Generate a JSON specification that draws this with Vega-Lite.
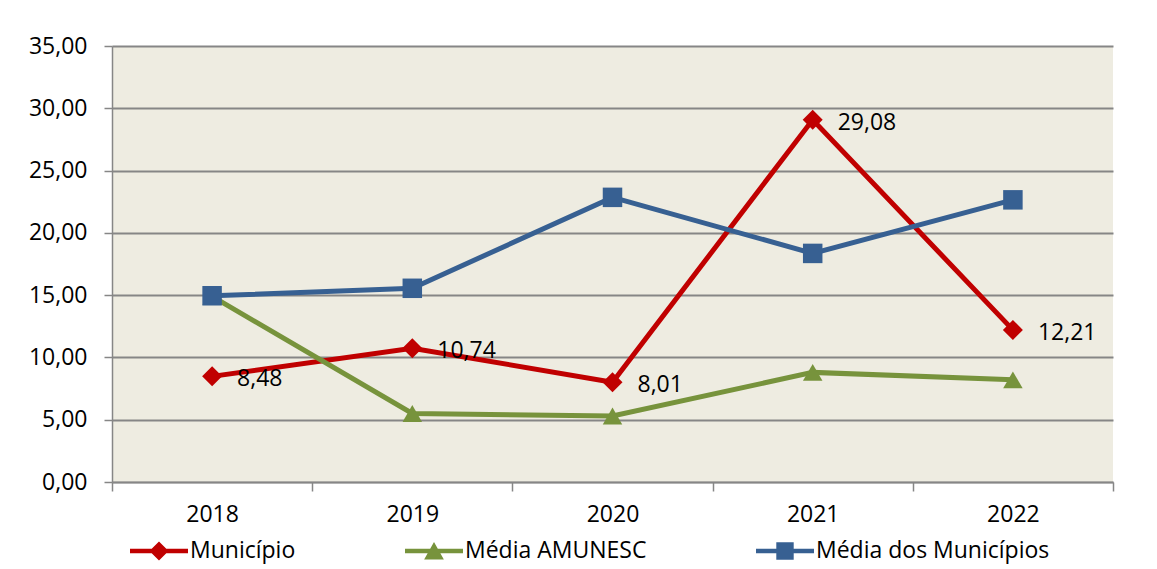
{
  "$schema": "https://vega.github.io/schema/vega-lite/v6.json",
  "width": 1001,
  "height": 436,
  "autosize": {"type": "none"},
  "padding": {"left": 112, "top": 46, "right": 44, "bottom": 87},
  "background": "white",
  "config": {
    "locale": {"number": {"decimal": ",", "thousands": ".", "grouping": [3], "currency": ["", ""]}},
    "view": {"fill": "#EEECE1", "stroke": null},
    "font": "Open Sans",
    "axis": {"labelFont": "Open Sans", "labelFontSize": 23, "labelColor": "#000000", "domainColor": "#868686", "tickColor": "#868686", "domainWidth": 1.5, "tickWidth": 1.5}
  },
  "data": {
    "values": [
      {"ano": "2018", "serie": "Município", "valor": 8.48},
      {"ano": "2019", "serie": "Município", "valor": 10.74},
      {"ano": "2020", "serie": "Município", "valor": 8.01},
      {"ano": "2021", "serie": "Município", "valor": 29.08},
      {"ano": "2022", "serie": "Município", "valor": 12.21},
      {"ano": "2018", "serie": "Média AMUNESC", "valor": 14.9},
      {"ano": "2019", "serie": "Média AMUNESC", "valor": 5.5},
      {"ano": "2020", "serie": "Média AMUNESC", "valor": 5.3},
      {"ano": "2021", "serie": "Média AMUNESC", "valor": 8.8},
      {"ano": "2022", "serie": "Média AMUNESC", "valor": 8.2},
      {"ano": "2018", "serie": "Média dos Municípios", "valor": 14.95},
      {"ano": "2019", "serie": "Média dos Municípios", "valor": 15.55},
      {"ano": "2020", "serie": "Média dos Municípios", "valor": 22.85},
      {"ano": "2021", "serie": "Média dos Municípios", "valor": 18.35},
      {"ano": "2022", "serie": "Média dos Municípios", "valor": 22.65}
    ]
  },
  "encoding": {
    "x": {
      "field": "ano",
      "type": "ordinal",
      "bandPosition": 0.5,
      "scale": {"type": "band", "paddingInner": 0, "paddingOuter": 0},
      "axis": {"title": null, "labelAngle": 0, "tickBand": "extent", "tickSize": 9, "labelPadding": 12, "grid": false}
    },
    "y": {
      "field": "valor",
      "type": "quantitative",
      "scale": {"domain": [0, 35], "nice": false},
      "axis": {"title": null, "values": [0, 5, 10, 15, 20, 25, 30, 35], "format": ".2f", "tickSize": 8, "labelPadding": 17, "grid": true, "gridColor": "#868686", "gridWidth": 2}
    },
    "color": {
      "field": "serie", "type": "nominal",
      "scale": {"domain": ["Município", "Média AMUNESC", "Média dos Municípios"], "range": ["#C00000", "#77933C", "#376092"]},
      "legend": {
        "title": null, "orient": "none", "legendX": 18, "legendY": 476, "direction": "horizontal", "gridAlign": "none", "columnPadding": 109,
        "symbolSize": 3364, "symbolStrokeWidth": 0, "labelOffset": 2, "labelFontSize": 23, "labelFont": "Open Sans", "labelColor": "#000000", "labelLimit": 500,
        "encode": {"symbols": {"update": {
          "shape": {"signal": "datum.value === 'Município' ? 'M-1,-0.08H1V0.08H-1Z M0,-0.33L0.33,0L0,0.33L-0.33,0Z' : datum.value === 'Média AMUNESC' ? 'M-1,-0.08H1V0.08H-1Z M0,-0.31L0.34,0.29L-0.34,0.29Z' : 'M-1,-0.08H1V0.08H-1Z M-0.3,-0.3H0.3V0.3H-0.3Z'"},
          "fill": {"scale": "color", "field": "value"},
          "fillOpacity": {"value": 1},
          "opacity": {"value": 1},
          "strokeWidth": {"value": 0}
        }}}
      }
    }
  },
  "layer": [
    {
      "mark": {"type": "line", "strokeWidth": 5},
      "encoding": {"order": {"field": "ano"}}
    },
    {
      "transform": [{"filter": "datum.serie === 'Município'"}],
      "mark": {"type": "point", "filled": true, "opacity": 1, "size": 400, "shape": "diamond"}
    },
    {
      "transform": [{"filter": "datum.serie === 'Média AMUNESC'"}],
      "mark": {"type": "point", "filled": true, "opacity": 1, "size": 380, "shape": "triangle-up"}
    },
    {
      "transform": [{"filter": "datum.serie === 'Média dos Municípios'"}],
      "mark": {"type": "point", "filled": true, "opacity": 1, "size": 380, "shape": "square"}
    },
    {
      "transform": [{"filter": "datum.serie === 'Município'"}],
      "mark": {"type": "text", "align": "left", "baseline": "middle", "dx": 25, "dy": 3, "fontSize": 23, "font": "Open Sans"},
      "encoding": {"text": {"field": "valor", "type": "quantitative", "format": ".2f"}, "color": {"value": "#000000"}}
    }
  ]
}
